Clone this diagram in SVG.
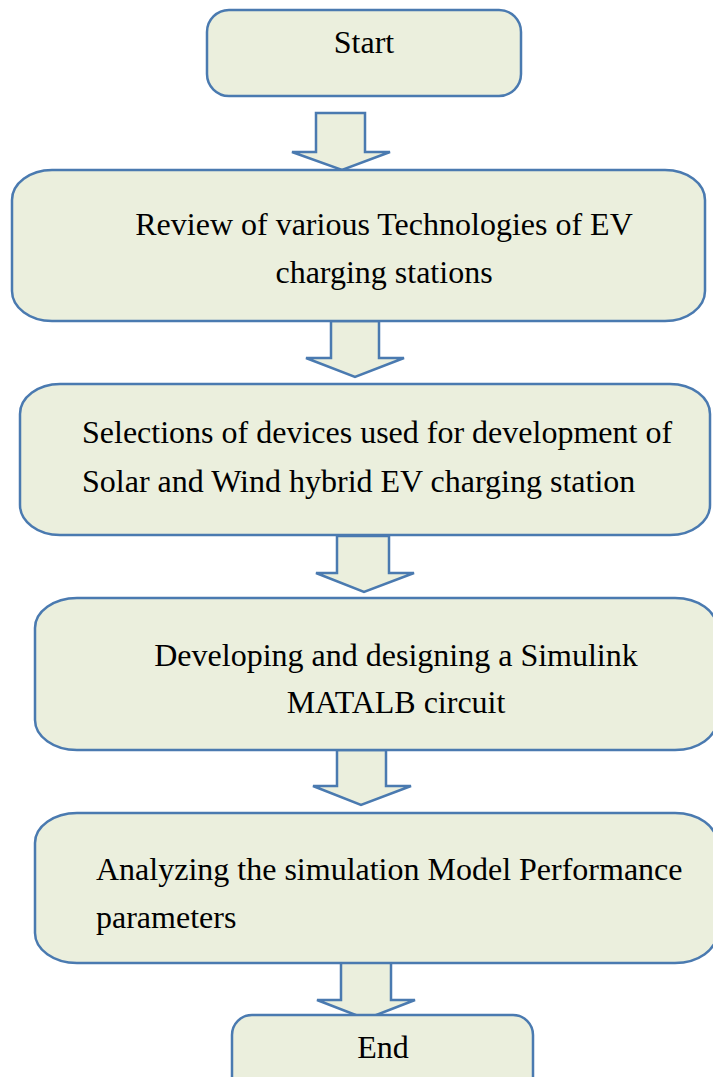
<svg xmlns="http://www.w3.org/2000/svg" width="713" height="1077" viewBox="0 0 713 1077">
<style>
.box{fill:#EBEFDD;stroke:#4A7AB0;stroke-width:2.5}
.arr{fill:#EBEFDD;stroke:#4A7AB0;stroke-width:2.5;stroke-linejoin:miter}
.t{font-size:32px;fill:#000}
.c{text-anchor:middle}
</style>
<rect width="713" height="1077" fill="#fff"/>
<g id="connectors">
<polygon class="arr" points="316,113 365,113 365,152 390,152 342,170 292,152 316,152"/>
<polygon class="arr" points="331,321 379,321 379,358 404,358 355,377 306,358 331,358"/>
<polygon class="arr" points="337,536 389,536 389,573 414,573 364,592 316,573 337,573"/>
<polygon class="arr" points="337,750 386,750 386,786 411,786 361,805 313,786 337,786"/>
<polygon class="arr" points="341,962 391,962 391,1000 415,1000 366,1019 317,1000 341,1000"/>
</g>
<g font-family="'Liberation Serif', 'Times New Roman', 'DejaVu Serif', serif">
<g id="start">
<rect class="box" x="207" y="10" width="314" height="86" rx="22" ry="22"/>
<text class="t c" x="364" y="53" font-size="31">Start</text>
</g>
<g id="review">
<rect class="box" x="12" y="170" width="693" height="151" rx="40" ry="30"/>
<text class="t c" x="384" y="235">Review of various Technologies of EV</text>
<text class="t c" x="384" y="283">charging stations</text>
</g>
<g id="selection">
<rect class="box" x="20" y="384" width="690" height="151" rx="40" ry="30"/>
<text class="t" x="82" y="443">Selections of devices used for development of</text>
<text class="t" x="82" y="492">Solar and Wind hybrid EV charging station</text>
</g>
<g id="developing">
<rect class="box" x="35" y="598" width="682" height="152" rx="42" ry="30"/>
<text class="t c" x="396" y="666">Developing and designing a Simulink</text>
<text class="t c" x="396" y="713">MATALB circuit</text>
</g>
<g id="analyzing">
<rect class="box" x="35" y="813" width="682" height="150" rx="42" ry="30"/>
<text class="t" x="96" y="880">Analyzing the simulation Model Performance</text>
<text class="t" x="96" y="928">parameters</text>
</g>
<g id="end">
<rect class="box" x="232" y="1015" width="301" height="90" rx="20" ry="20"/>
<text class="t c" x="383" y="1058" font-size="31">End</text>
</g>
</g>
</svg>
